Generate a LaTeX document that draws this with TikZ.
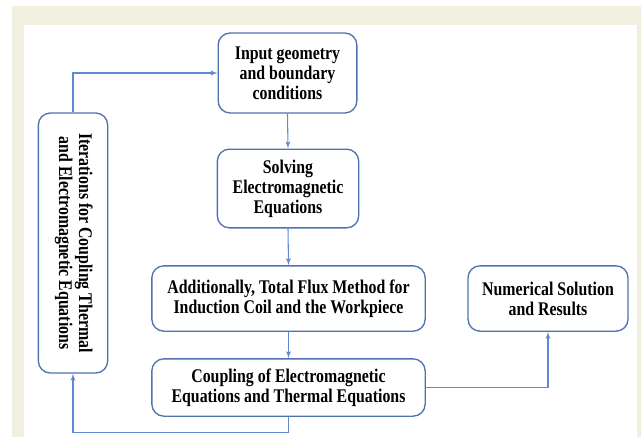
\documentclass[tikz,border=0pt]{standalone}
\usepackage{fontspec}
\setmainfont{Liberation Serif}[FakeStretch=0.82]
\usepackage{graphicx}
\usepackage{tikz}
\definecolor{boxblue}{RGB}{79,114,176}
\definecolor{lineblue}{RGB}{98,136,208}
\definecolor{paper}{RGB}{241,239,223}
\usetikzlibrary{arrows}
\tikzstyle{line} = [draw=lineblue, line width=0.8pt, -latex']
\tikzstyle{block} = [draw=boxblue, line width=1pt, rounded corners=9pt, align=center, inner sep=2pt,
	font=\fontsize{14.5}{15}\selectfont\bfseries]

\begin{document}
\begin{tikzpicture}[x=0.75pt, y=-0.75pt]
				%Rahmen
				\useasboundingbox (0,0) rectangle (641,437);
				\fill[color=paper] (12,6) rectangle (641,437);
				\fill[color=white] (24,25) rectangle (637,437);
				%Bloecke
				\node[block, minimum width=104pt, minimum height=60pt] (input) at (287.5,73) {Input geometry\\and boundary\\conditions};
				\node[block, minimum width=106pt, minimum height=59pt] (solve) at (288,188.5) {Solving\\Electromagnetic\\Equations};
				\node[block, minimum width=205pt, minimum height=49pt] (flux) at (288.5,298.5) {Additionally, Total Flux Method for\\Induction Coil and the Workpiece};
				\node[block, minimum width=205pt, minimum height=43pt] (couple) at (288.5,387.5) {Coupling of Electromagnetic\\Equations and Thermal Equations};
				\node[block, minimum width=120pt, minimum height=49pt] (result) at (548,298.5) {Numerical Solution\\and Results};
				\node[block, minimum width=52pt, minimum height=195pt] (iter) at (73,243) {\rotatebox{-90}{\begin{tabular}{@{}c@{}}Iterations for Coupling Thermal\\and Electromagnetic Equations\end{tabular}}};
				%Pfeile
				\draw[line] (iter.north) |- (input.west);
				\draw[line] (input.south) -- (solve.north);
				\draw[line] (solve.south) -- (flux.north);
				\draw[line] (flux.south) -- (couple.north);
				\draw[line] (couple.south) -- ++(0,16) -| (iter.south);
				\draw[line] (couple.east) -| (result.south);
			\end{tikzpicture}
\end{document}
